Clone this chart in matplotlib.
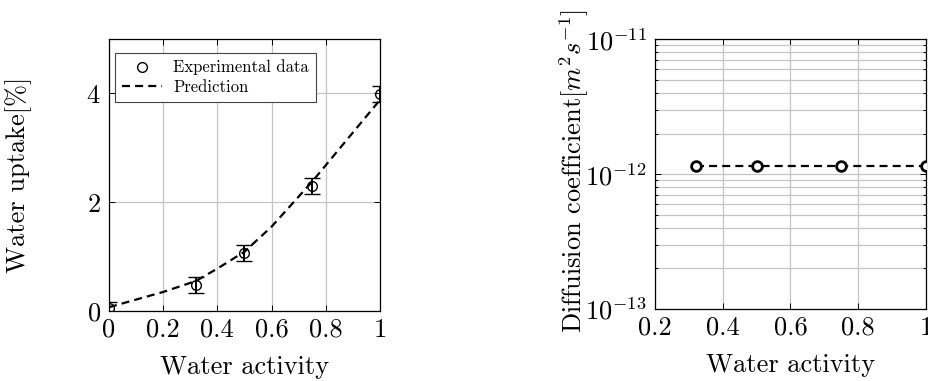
import numpy as np
import matplotlib
matplotlib.use("Agg")
import matplotlib.pyplot as plt
from matplotlib.lines import Line2D

plt.rcParams["font.family"] = "serif"
plt.rcParams["font.serif"] = ["cmr10"]
plt.rcParams["mathtext.fontset"] = "cm"
plt.rcParams["axes.formatter.use_mathtext"] = True

# left panel: water uptake
aw_exp = [0.0, 0.32, 0.5, 0.75, 1.0]
uptake_exp = [0.05, 0.48, 1.07, 2.30, 3.99]
uptake_err = [0.12, 0.15, 0.15, 0.15, 0.14]
aw_pred = [0.0, 0.1, 0.2, 0.32, 0.4, 0.5, 0.6, 0.75, 0.8, 0.9, 1.0]
uptake_pred = [0.07, 0.21, 0.35, 0.55, 0.78, 1.09, 1.55, 2.38, 2.68, 3.28, 3.88]

# right panel: diffusion coefficient
aw_diff = [0.32, 0.5, 0.75, 1.0]
diff_coef = [1.155e-12, 1.155e-12, 1.155e-12, 1.155e-12]

FS = 19
grid_c = "#c4c4c4"
DASH = (3.6, 2.3)

fig = plt.figure(figsize=(9.29, 3.81), dpi=100)
ax1 = fig.add_axes([0.1173, 0.1837, 0.2917, 0.7139])
ax2 = fig.add_axes([0.705, 0.1890, 0.2918, 0.7079])

ax1.errorbar(aw_exp, uptake_exp, yerr=uptake_err, fmt="o", mfc="none",
             mec="black", color="black", ms=7, mew=1.0, elinewidth=1.4,
             capsize=5.8, capthick=1.5, zorder=3)
ax1.plot(aw_pred, uptake_pred, "--", color="black", lw=1.6, dashes=DASH, zorder=4)
ax1.set_xlim(0, 1)
ax1.set_ylim(0, 5)
ax1.set_xticks([0, 0.2, 0.4, 0.6, 0.8, 1.0])
ax1.set_xticklabels(["0", "0.2", "0.4", "0.6", "0.8", "1"])
ax1.set_yticks([0, 2, 4])
ax1.grid(True, color=grid_c, lw=0.9)
ax1.set_axisbelow(True)
ax1.set_xlabel("Water activity", fontsize=FS, labelpad=10)
ax1.set_ylabel("Water uptake[%]", fontsize=FS)
ax1.yaxis.set_label_coords(-0.284, 0.5)

handles = [
    Line2D([], [], ls="none", marker="o", ms=7, mfc="none", mec="black", mew=1.0),
    Line2D([], [], ls="--", color="black", lw=1.6, dashes=DASH),
]
leg = ax1.legend(handles, ["Experimental data", "Prediction"], loc="upper left",
                 fontsize=12, frameon=True, fancybox=False,
                 edgecolor="#444444", framealpha=1, borderpad=0.4,
                 handlelength=2.4, handletextpad=0.7, labelspacing=0.25,
                 borderaxespad=0, bbox_to_anchor=(0.022, 0.949))
leg.get_frame().set_linewidth(0.8)

ax2.plot(aw_diff, diff_coef, "--", color="black", lw=1.6, dashes=DASH,
         marker="o", ms=7, mfc="white", mec="black", mew=2.0, zorder=3)
ax2.set_yscale("log")
ax2.set_xlim(0.2, 1)
ax2.set_ylim(1e-13, 1e-11)
ax2.set_xticks([0.2, 0.4, 0.6, 0.8, 1.0])
ax2.set_xticklabels(["0.2", "0.4", "0.6", "0.8", "1"])
ax2.set_yticks([1e-13, 1e-12, 1e-11])
ax2.grid(True, which="major", color=grid_c, lw=0.9)
ax2.grid(True, which="minor", axis="y", color=grid_c, lw=0.9)
ax2.set_axisbelow(True)
ax2.set_xlabel("Water activity", fontsize=FS, labelpad=10)
ax2.set_ylabel(r"Diffuision coefficient$[m^2s^{-1}]$", fontsize=FS)
ax2.yaxis.set_label_coords(-0.237, 0.51)

for ax in (ax1, ax2):
    ax.tick_params(axis="both", which="both", direction="in", labelsize=FS,
                   top=True, right=True, length=4, width=0.7)
    ax.tick_params(axis="x", pad=5)
    ax.tick_params(axis="y", pad=6)
    ax.tick_params(axis="y", which="minor", length=2.5)
    for s in ax.spines.values():
        s.set_linewidth(0.9)

fig.savefig("out.png", dpi=100)
